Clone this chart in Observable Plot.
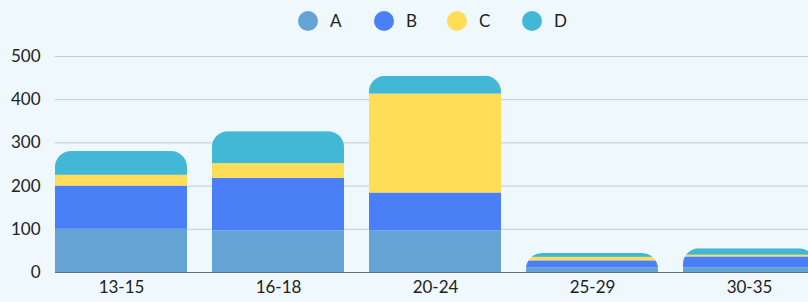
<!DOCTYPE html>
<html>
<head>
<meta charset="utf-8">
<script src="https://cdn.jsdelivr.net/npm/d3@7"></script>
<script src="https://cdn.jsdelivr.net/npm/@observablehq/plot@0.6"></script>
<style>
  html, body { margin: 0; padding: 0; background: #EEF8FD; }
  body { width: 808px; height: 302px; overflow: hidden; font-family: Lato, "Noto Sans", sans-serif; }
  #legend { position: relative; height: 40px; width: 808px; }
  .item { position: absolute; top: 10px; display: flex; align-items: center; font-size: 17px; color: #222; }
  .dot { width: 20px; height: 20px; border-radius: 50%; margin-right: 12px; }
</style>
</head>
<body>
<div id="legend"></div>
<div id="chart"></div>
<script>
const categories = ["13-15", "16-18", "20-24", "25-29", "30-35"];
const seriesNames = ["A", "B", "C", "D"];
const seriesColors = ["#64A3D3", "#4A7FF7", "#FFDD57", "#42B8D6"];
const valuesA = [100, 96, 96, 11, 11];
const valuesB = [100, 122, 88, 16, 25];
const valuesC = [25, 34, 229, 8, 4];
const valuesD = [55, 74, 41, 9, 15];
const yTicks = [0, 100, 200, 300, 400, 500];

const seriesValues = [valuesA, valuesB, valuesC, valuesD];
const data = [];
seriesNames.forEach((s, si) => {
  categories.forEach((c, ci) => data.push({category: c, series: s, value: seriesValues[si][ci]}));
});

// legend
const legend = document.getElementById("legend");
const legendX = [298, 374, 447, 522];
seriesNames.forEach((s, i) => {
  const d = document.createElement("div");
  d.className = "item";
  d.style.left = legendX[i] + "px";
  d.innerHTML = `<span class="dot" style="background:${seriesColors[i]}"></span><span>${s}</span>`;
  legend.appendChild(d);
});

let clipCount = 0;
function roundTopClip(index, scales, values, dimensions, context, next) {
  const g = next(index, scales, values, dimensions, context);
  const bounds = new Map();
  g.querySelectorAll("rect").forEach(r => {
    const x = +r.getAttribute("x"), w = +r.getAttribute("width");
    const y = +r.getAttribute("y"), h = +r.getAttribute("height");
    const key = x.toFixed(2);
    const b = bounds.get(key) || {x0: x, x1: x + w, top: Infinity, bot: -Infinity};
    b.top = Math.min(b.top, y); b.bot = Math.max(b.bot, y + h);
    bounds.set(key, b);
  });
  const id = "clip-round-" + (clipCount++);
  const ns = "http://www.w3.org/2000/svg";
  const defs = document.createElementNS(ns, "defs");
  const cp = document.createElementNS(ns, "clipPath");
  cp.setAttribute("id", id);
  for (const b of bounds.values()) {
    const h = b.bot - b.top;
    const rx = 16, ry = Math.min(16, h);
    const x0 = b.x0, x1 = b.x1;
    const p = document.createElementNS(ns, "path");
    p.setAttribute("d",
      `M${x0},${b.bot}L${x0},${b.top + ry}A${rx},${ry} 0 0 1 ${x0 + rx},${b.top}` +
      `L${x1 - rx},${b.top}A${rx},${ry} 0 0 1 ${x1},${b.top + ry}L${x1},${b.bot}Z`);
    cp.appendChild(p);
  }
  defs.appendChild(cp);
  const wrap = document.createElementNS(ns, "g");
  wrap.appendChild(defs);
  g.setAttribute("clip-path", `url(#${id})`);
  wrap.appendChild(g);
  return wrap;
}

const chart = Plot.plot({
  width: 808,
  height: 262,
  marginTop: 16,
  marginBottom: 30,
  marginLeft: 55,
  marginRight: 0,
  style: {background: "transparent", fontSize: "17px", fontFamily: "Lato, 'Noto Sans', sans-serif", color: "#222", overflow: "visible"},
  x: {domain: categories, range: [55, 815], paddingInner: 0.16, paddingOuter: 0, label: null},
  y: {domain: [0, 500], label: null},
  color: {domain: seriesNames, range: seriesColors},
  marks: [
    Plot.gridY(yTicks, {stroke: "#C3CDD5", strokeOpacity: 1, strokeWidth: 1}),
    Plot.ruleY([0], {stroke: "#6B6B6B", strokeWidth: 1}),
    Plot.barY(data, {x: "category", y: "value", fill: "series", render: roundTopClip}),
    Plot.axisY(yTicks, {tickSize: 0, tickPadding: 15, label: null, fontSize: 17}),
    Plot.axisX({tickSize: 0, tickPadding: 8, label: null, fontSize: 17})
  ]
});
document.getElementById("chart").appendChild(chart);
</script>
</body>
</html>
